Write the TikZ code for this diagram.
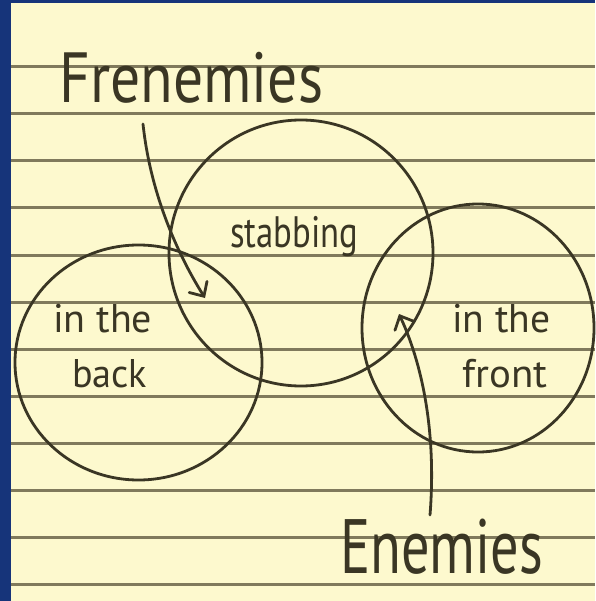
\documentclass[tikz,border=0pt]{standalone}
\usepackage{fontspec}
\setmainfont{PT Sans}
\usetikzlibrary{shapes.geometric,arrows.meta}
\definecolor{paper}{RGB}{253,249,206}
\definecolor{rulecol}{RGB}{128,122,92}
\definecolor{ink}{RGB}{58,54,36}
\definecolor{framecol}{RGB}{22,52,122}
\newcommand{\fitw}[3]{\resizebox{#1}{\height}{\fontsize{#2}{#2}\selectfont #3}}
\begin{document}
\begin{tikzpicture}[x=1pt,y=-1pt,
  ring/.style={draw=ink, line width=2.8pt, ellipse, inner sep=0pt},
  txt/.style={ink, inner sep=0pt, anchor=base west},
  pointer/.style={draw=ink, line width=2.8pt, line cap=round,
    -{Straight Barb[length=11pt,width=21pt,line cap=round]}}]
% paper and frame
\fill[paper] (0,0) rectangle (595,601);
\fill[framecol] (0,0) rectangle (11,601);
\fill[framecol] (0,0) rectangle (595,3);
\useasboundingbox (0,0) rectangle (595,601);
% ruled lines
\foreach \yy in {67,114,161,208,255,302,349,396,443,490,537,584}
  \draw[rulecol, line width=3pt] (11,\yy) -- (595,\yy);
% circles
\node[ring, minimum width=247pt, minimum height=235pt] (back) at (138.5,362.5) {};
\node[ring, minimum width=264pt, minimum height=266pt] (stab) at (301,253) {};
\node[ring, minimum width=232pt, minimum height=248pt] (front) at (478,328) {};
% labels
\node[txt] (fren) at (59,103) {\fitw{264pt}{71}{Frenemies}};
\node[txt] (enem) at (340,573) {\fitw{203pt}{77}{Enemies}};
\node[txt] (stabt) at (230,247) {\fitw{128pt}{44}{stabbing}};
\node[txt] (inl) at (53,332) {\fitw{99pt}{40}{in the}};
\node[txt] (backt) at (72,387) {\fitw{75pt}{40}{back}};
\node[txt] (inr) at (452,332) {\fitw{98pt}{40}{in the}};
\node[txt] (frontt) at (462,387) {\fitw{85pt}{40}{front}};
% arrows
\coordinate (f0) at (143,124);
\coordinate (f1) at (205,298);
\coordinate (e0) at (430,515);
\coordinate (e1) at (399,314);
\draw[pointer] (f0) .. controls (150,190) and (175,250) .. (f1);
\draw[pointer] (e0) .. controls (436,440) and (425,370) .. (e1);
\end{tikzpicture}
\end{document}
